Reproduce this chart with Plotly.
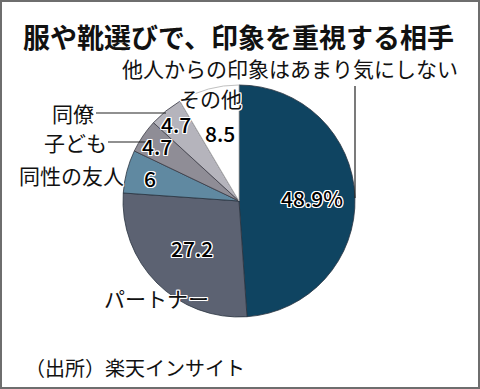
import math
import plotly.graph_objects as go

# ---- data ----
title_text = "服や靴選びで、印象を重視する相手"
categories = ["他人からの印象はあまり気にしない", "パートナー", "同性の友人", "子ども", "同僚", "その他"]
values = [48.9, 27.2, 6.0, 4.7, 4.7, 8.5]
value_labels = ["48.9%", "27.2", "6", "4.7", "4.7", "8.5"]
source_text = "（出所）楽天インサイト"

# ---- style ----
colors = ["#0f4461", "#5c6272", "#6089a1", "#8f8d96", "#b5b4bc", "#ffffff"]
line_colors = ["#2a3340", "#2a3340", "#2a3340", "#3a3a44", "#3a3a44", "#b0b0b0"]
W, H = 480, 389
CX, CY, R = 239, 201, 116          # pie centre / radius in pixels
label_radius = [0.63, 0.57, 0.79, 0.85, 0.86, 0.61]
FONT = "Noto Sans CJK JP"
halo = ("-1px -1px 0 #fff, 1px -1px 0 #fff, -1px 1px 0 #fff, 1px 1px 0 #fff, "
        "0 -1px 0 #fff, 0 1px 0 #fff, -1px 0 0 #fff, 1px 0 0 #fff")

fig = go.Figure(go.Pie(
    labels=categories,
    values=values,
    sort=False,
    direction="clockwise",
    rotation=0,
    marker=dict(colors=colors, line=dict(color=line_colors, width=0.8)),
    textinfo="none",
    hoverinfo="label+value",
    showlegend=False,
    domain=dict(x=[(CX - R) / W, (CX + R) / W], y=[1 - (CY + R) / H, 1 - (CY - R) / H]),
))

annotations = []
# value labels placed at the mid-angle of each slice
total = sum(values)
cum = 0.0
for v, txt, rf in zip(values, value_labels, label_radius):
    mid = (cum + v / 2) / total * 2 * math.pi
    cum += v
    px = CX + rf * R * math.sin(mid)
    py = CY - rf * R * math.cos(mid)
    annotations.append(dict(
        x=px / W, y=1 - py / H, xref="paper", yref="paper", text=txt, showarrow=False,
        xanchor="center", yanchor="middle",
        font=dict(family=FONT, size=21, color="#000", weight=500, shadow=halo),
    ))

# category labels (outside)
outer = [
    (categories[0], 290, 68, "center"),
    (categories[1], 156, 298, "center"),
    (categories[2], 71, 175, "center"),
    (categories[3], 75, 142, "center"),
    (categories[4], 73, 113, "center"),
    (categories[5], 210, 98, "center"),
]
for txt, px, py, anc in outer:
    annotations.append(dict(
        x=px / W, y=1 - py / H, xref="paper", yref="paper", text=txt, showarrow=False,
        xanchor=anc, yanchor="middle",
        font=dict(family=FONT, size=21, color="#111", shadow=halo),
    ))

annotations.append(dict(
    x=238 / W, y=1 - 36 / H, xref="paper", yref="paper", text=title_text, showarrow=False,
    xanchor="center", yanchor="middle",
    font=dict(family=FONT, size=27, color="#111", weight=700),
))
annotations.append(dict(
    x=23 / W, y=1 - 367 / H, xref="paper", yref="paper", text=source_text, showarrow=False,
    xanchor="left", yanchor="middle",
    font=dict(family=FONT, size=20, color="#111"),
))

def seg(x0, y0, x1, y1):
    return dict(type="line", xref="paper", yref="paper",
                x0=x0 / W, y0=1 - y0 / H, x1=x1 / W, y1=1 - y1 / H,
                line=dict(color="#222", width=1.2))

shapes = [
    seg(355, 86, 355, 198),   # leader for 他人からの…
    seg(96, 113, 166, 113),   # 同僚
    seg(108, 142, 146, 142),  # 子ども
    dict(type="rect", xref="paper", yref="paper", x0=1 / W, y0=1 / H, x1=1 - 1 / W, y1=1 - 1 / H,
         line=dict(color="#6e6e6e", width=2)),
]

fig.update_layout(
    width=W, height=H,
    margin=dict(l=0, r=0, t=0, b=0),
    paper_bgcolor="white", plot_bgcolor="white",
    annotations=annotations, shapes=shapes,
)
fig.write_html("out.html", config={"displayModeBar": False},
               post_script="document.body.style.margin='0';document.body.style.overflow='hidden';")
